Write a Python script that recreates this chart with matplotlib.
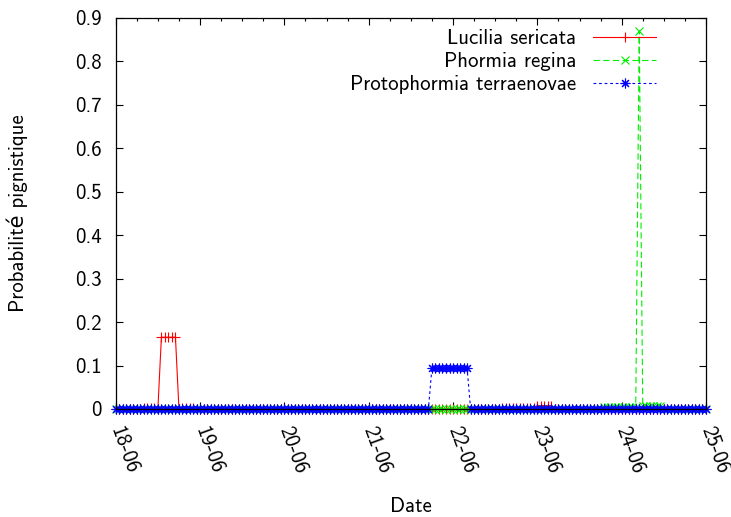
import numpy as np
import pandas as pd
import matplotlib
matplotlib.use("Agg")
import matplotlib.pyplot as plt
import matplotlib.dates as mdates

plt.rcParams['font.family'] = ['cmss10', 'DejaVu Sans']
plt.rcParams['font.size'] = 15
plt.rcParams['lines.scale_dashes'] = False
plt.rcParams['axes.unicode_minus'] = False

# hourly samples, 18-06 00h -> 25-06 00h
times = pd.date_range("2010-06-18 00:00", "2010-06-25 00:00", freq="h")

# non-zero runs (start time, hourly values); everything else is 0
lucilia_runs = [
    ("2010-06-18 08:00", [0.002, 0.002, 0.002, 0.002]),
    ("2010-06-18 13:00", [0.165, 0.165, 0.165, 0.165, 0.165]),
    ("2010-06-18 19:00", [0.002, 0.002, 0.002, 0.002]),
    ("2010-06-22 14:00", [0.003, 0.003, 0.003, 0.003, 0.003,
                          0.003, 0.003, 0.003, 0.003, 0.003]),
    ("2010-06-23 00:00", [0.008, 0.008, 0.008, 0.008, 0.008]),
]
phormia_runs = [
    ("2010-06-23 19:00", [0.004, 0.004, 0.004, 0.004, 0.004,
                          0.004, 0.004, 0.004, 0.004, 0.004]),
    ("2010-06-24 05:00", [0.87]),
    ("2010-06-24 06:00", [0.006, 0.006, 0.006, 0.006, 0.006, 0.006]),
]
proto_runs = [
    ("2010-06-21 18:00", [0.095, 0.095, 0.095, 0.095, 0.095, 0.095,
                          0.095, 0.095, 0.095, 0.095, 0.095]),
]


def build(runs):
    s = pd.Series(0.0, index=times)
    for start, vals in runs:
        idx = times.get_loc(pd.Timestamp(start))
        s.iloc[idx:idx + len(vals)] = vals
    return s


lucilia = build(lucilia_runs)
phormia = build(phormia_runs)
proto = build(proto_runs)

fig = plt.figure(figsize=(7.31, 5.17), dpi=100)
ax = fig.add_axes([0.1583, 0.2089, 0.8075, 0.7569])

lw = 0.8
ax.plot(times, lucilia, color="#ff0000", lw=lw, marker="+", ms=7, mew=0.8,
        label="Lucilia sericata", clip_on=False)
ax.plot(times, phormia, color="#00ee00", lw=lw, marker="x", ms=5.5, mew=0.8,
        dashes=(4.5, 2.5), label="Phormia regina", clip_on=False)
ax.plot(times, proto, color="#0000ff", lw=lw, marker=(8, 2, 0), ms=7, mew=0.8,
        dashes=(2, 2), label="Protophormia terraenovae", clip_on=False)

ax.set_xlim(pd.Timestamp("2010-06-18"), pd.Timestamp("2010-06-25"))
ax.set_ylim(0, 0.9)
ax.set_yticks(np.arange(0, 0.91, 0.1))
ax.set_yticklabels(["0", "0.1", "0.2", "0.3", "0.4", "0.5", "0.6", "0.7", "0.8", "0.9"])
ax.xaxis.set_major_locator(mdates.DayLocator())
ax.xaxis.set_minor_locator(mdates.HourLocator(byhour=[6, 12, 18]))
ax.xaxis.set_major_formatter(mdates.DateFormatter("%d-%m"))

ax.tick_params(which="both", direction="in", top=True, right=True, width=0.8)
ax.tick_params(which="major", length=5)
ax.tick_params(which="minor", length=2.5)
ax.tick_params(axis="y", pad=10)
ax.tick_params(axis="x", pad=13)
for lab in ax.get_xticklabels():
    lab.set_rotation(-70)
    lab.set_ha("left")
    lab.set_va("center")
    lab.set_rotation_mode("anchor")
for sp in ax.spines.values():
    sp.set_linewidth(0.9)

ax.set_xlabel("Date")
ax.set_ylabel("Probabilité pignistique")
ax.xaxis.set_label_coords(0.5, -0.226)
ax.yaxis.set_label_coords(-0.149, 0.5)

leg = ax.legend(loc="upper right", markerfirst=False, frameon=False,
                numpoints=1, handlelength=3.05, handletextpad=0.8,
                labelspacing=0.19, borderaxespad=0.2,
                bbox_to_anchor=(0.937, 1.003))
for col in leg._legend_handle_box.get_children():
    col.align = "right"

fig.savefig("out.png", dpi=100)
